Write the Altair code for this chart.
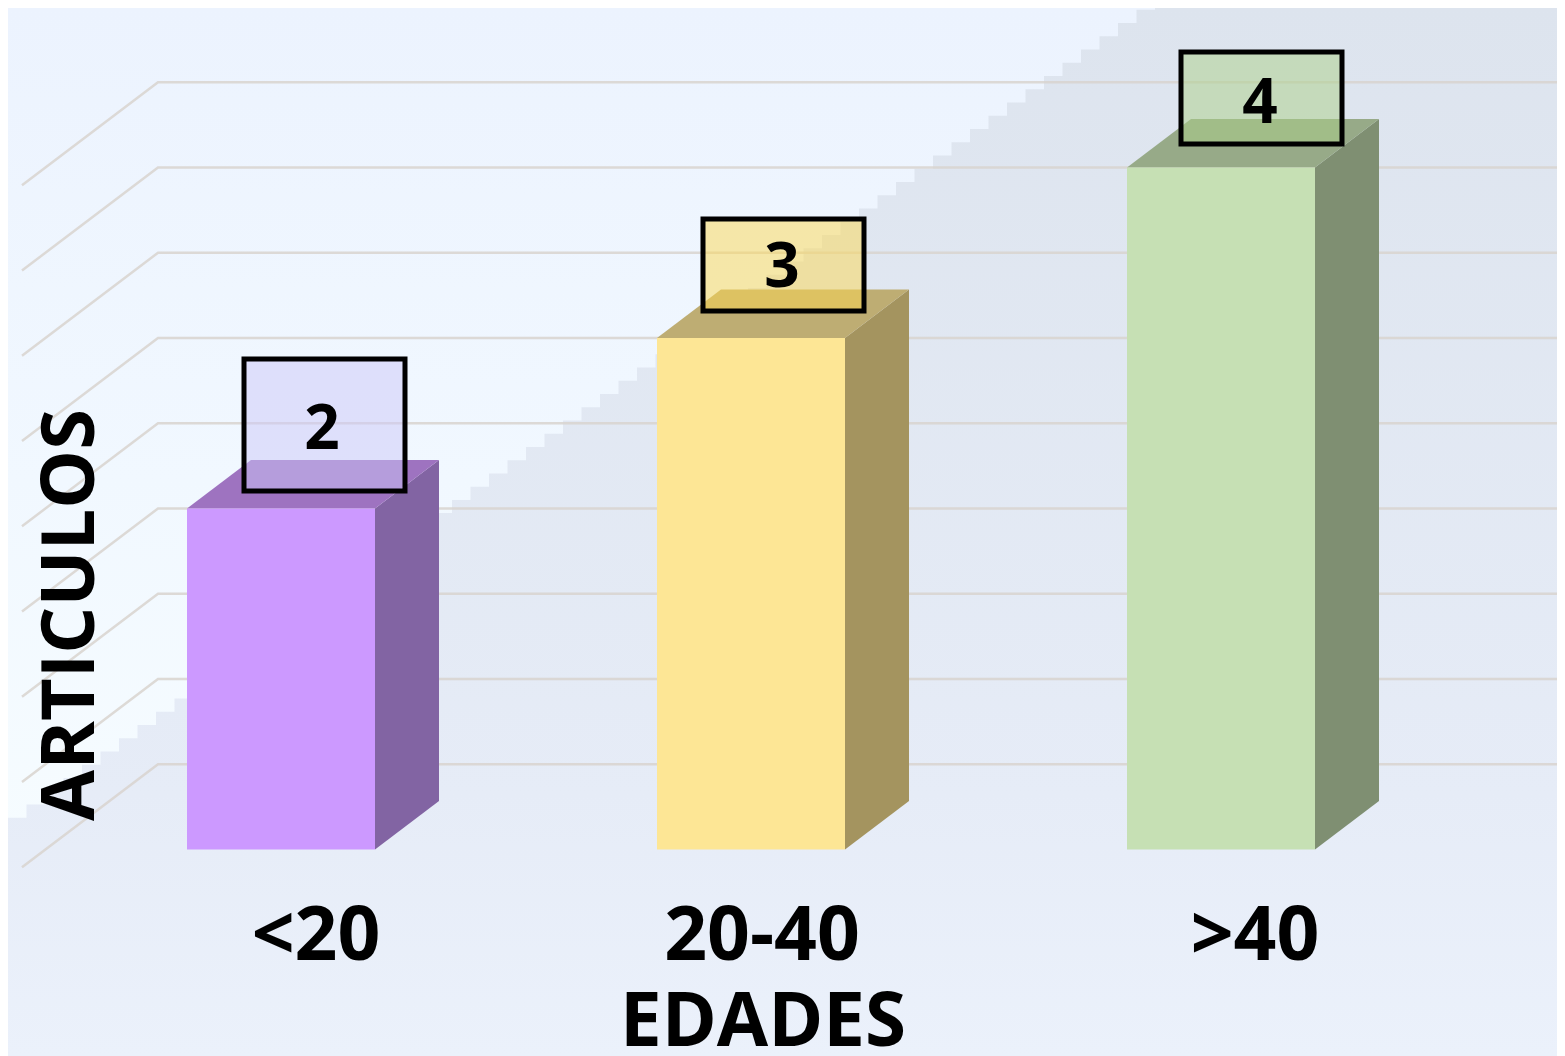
import numpy as np
import pandas as pd
import altair as alt

categories = ["<20", "20-40", ">40"]
values = [2, 3, 4]
grid_levels = [0.5, 1, 1.5, 2, 2.5, 3, 3.5, 4, 4.5]
front_colors = ["#cc99ff", "#fde695", "#c6e0b4"]
top_colors = ["#9e73c0", "#bead73", "#97aa88"]
side_colors = ["#8264a3", "#a4945f", "#7f8f72"]
box_colors = ["#ccc8f8", "#fcd751", "#abd087"]

M = 8                     # page margin
W, H = 1549, 1048         # drawable chart size
X0, XU = 187.0, 470.0     # first bar's left edge, category pitch (page pixels)
Y0, YU = 849.5, 170.5     # baseline, one value unit (page pixels)


def xd(px):
    return (px - X0) / XU


def yd(px):
    return (Y0 - px) / YU


xs = alt.Scale(domain=[xd(M), xd(M + W)], nice=False, zero=False)
ys = alt.Scale(domain=[yd(M + H), yd(M)], nice=False, zero=False)
X = lambda f="x": alt.X(f"{f}:Q", scale=xs, axis=None)
Y = lambda f="y": alt.Y(f"{f}:Q", scale=ys, axis=None)

BAR_W = 188 / XU
DX, DY = 64 / XU, 48.5 / YU
WALL_DX, WALL_DY = 136 / XU, 103 / YU
WALL_X = xd(158)

# background
light = alt.Chart(pd.DataFrame({"x": [xd(M)], "x2": [xd(M + W)], "y": [yd(M)], "y2": [yd(M + H)]})).mark_rect(
    color=alt.Gradient(gradient="linear", x1=0, x2=0, y1=0, y2=1, stops=[
        alt.GradientStop(color="#ecf3fe", offset=0),
        alt.GradientStop(color="#f1f8ff", offset=0.45),
        alt.GradientStop(color="#f6fcff", offset=0.8),
        alt.GradientStop(color="#f6fcff", offset=1)])
).encode(x=X(), x2="x2:Q", y=Y(), y2="y2:Q")

step_x = np.arange(M, M + W + 19, 18.5)


def shade(shift, opacity):
    edge = np.clip(850 - (step_x + shift) * 0.716, M, None)
    df = pd.DataFrame({"x": xd(step_x), "y": yd(edge), "y2": yd(M + H)})
    return alt.Chart(df).mark_area(
        interpolate="step-after", opacity=opacity,
        color=alt.Gradient(gradient="linear", x1=0, x2=0, y1=0, y2=1, stops=[
            alt.GradientStop(color="#dde4ee", offset=0),
            alt.GradientStop(color="#e6ecf7", offset=0.75),
            alt.GradientStop(color="#ebf1fb", offset=1)])
    ).encode(x=X(), y=Y(), y2="y2:Q")


bg = [shade(-37, 0.12), shade(-18, 0.25), shade(0, 0.45), shade(18, 0.7), shade(37, 1.0)]

# back wall gridlines
rows = []
for lv in grid_levels:
    rows += [dict(level=lv, x=WALL_X - WALL_DX, y=lv - WALL_DY, o=0),
             dict(level=lv, x=WALL_X, y=lv, o=1),
             dict(level=lv, x=xd(M + W), y=lv, o=2)]
grid = alt.Chart(pd.DataFrame(rows)).mark_line(color="#d8d4cf", strokeWidth=2.5, opacity=0.85).encode(
    x=X(), y=Y(), detail="level:N", order="o:Q")

# bars
front, faces = [], []
for i, v in enumerate(values):
    x0, x1 = i, i + BAR_W
    front.append(dict(x=x0, x2=x1, y=v, y2=0, fill=front_colors[i]))
    for x, y, y2 in [(x1, v, 0), (x1 + DX, v + DY, DY)]:
        faces.append(dict(key=f"s{i}", x=x, y=y, y2=y2, fill=side_colors[i]))
    for x, y, y2 in [(x0, v, v), (x0 + DX, v + DY, v), (x1, v + DY, v), (x1 + DX, v + DY, v + DY)]:
        faces.append(dict(key=f"t{i}", x=x, y=y, y2=y2, fill=top_colors[i]))

face = alt.Chart(pd.DataFrame(faces)).mark_area(opacity=1).encode(
    x=X(), y=Y(), y2="y2:Q", detail="key:N", color=alt.Color("fill:N", scale=None))
fr = alt.Chart(pd.DataFrame(front)).mark_rect(opacity=1).encode(
    x=X(), x2="x2:Q", y=Y(), y2="y2:Q", color=alt.Color("fill:N", scale=None))

# value boxes
box_left = [244, 703, 1181]
box_right = [405, 864, 1342]
box_top = [359, 219, 52]
box_bottom = [491, 311, 144]
label_x = [322, 782, 1260]
label_base = [449, 287, 123]
boxes = pd.DataFrame({
    "x": [xd(p) for p in box_left], "x2": [xd(p) for p in box_right],
    "y": [yd(p) for p in box_top], "y2": [yd(p) for p in box_bottom],
    "fill": box_colors,
})
box = alt.Chart(boxes).mark_rect(opacity=1, fillOpacity=0.5, stroke="#000000", strokeWidth=5).encode(
    x=X(), x2="x2:Q", y=Y(), y2="y2:Q", color=alt.Color("fill:N", scale=None))
vals = pd.DataFrame({"x": [xd(p) for p in label_x], "y": [yd(p) for p in label_base],
                     "t": [str(v) for v in values]})
vtext = alt.Chart(vals).mark_text(font="Open Sans", fontWeight="bold", fontSize=62, color="#000000",
                                  baseline="alphabetic", align="center").encode(x=X(), y=Y(), text="t:N")

# axis-like text
cat_x = [316, 762, 1255]
cats = pd.DataFrame({"x": [xd(p) for p in cat_x], "y": [yd(960)] * 3, "t": categories})
ctext = alt.Chart(cats).mark_text(font="Open Sans", fontWeight="bold", fontSize=75, color="#000000",
                                  baseline="alphabetic", align="center").encode(x=X(), y=Y(), text="t:N")
xt = alt.Chart(pd.DataFrame({"x": [xd(763)], "y": [yd(1046)], "t": ["EDADES"]})).mark_text(
    font="Open Sans", fontWeight="bold", fontSize=74.5, color="#000000",
    baseline="alphabetic", align="center").encode(x=X(), y=Y(), text="t:N")
yt = alt.Chart(pd.DataFrame({"x": [xd(94)], "y": [yd(615)], "t": ["ARTICULOS"]})).mark_text(
    font="Open Sans", fontWeight="bold", fontSize=74, color="#000000", angle=270,
    baseline="alphabetic", align="center").encode(x=X(), y=Y(), text="t:N")

chart = alt.layer(light, *bg, grid, face, fr, box, vtext, ctext, xt, yt).properties(
    width=W, height=H, padding=0, autosize=alt.AutoSizeParams(type="none"),
).configure_view(stroke=None)

chart.save("out.html", embed_options={"renderer": "svg", "actions": False})
